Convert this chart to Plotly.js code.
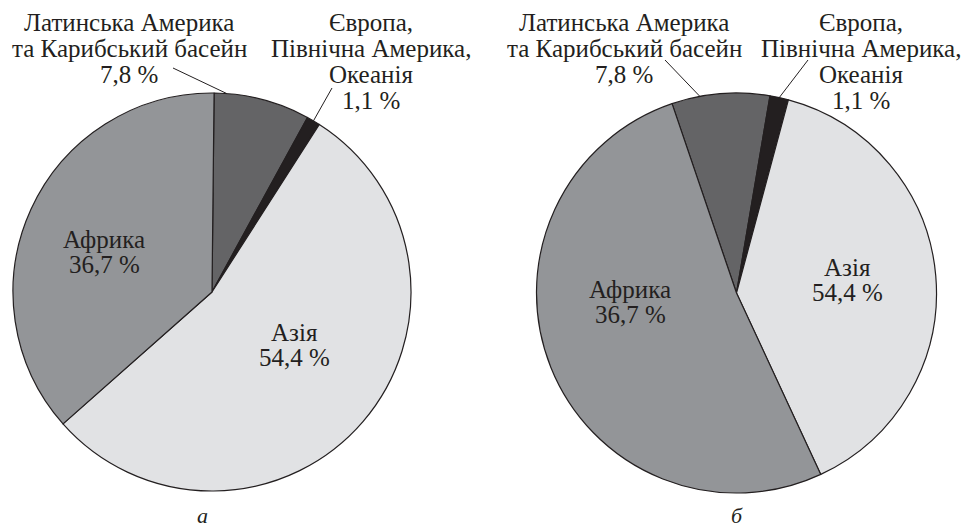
<!DOCTYPE html>
<html>
<head>
<meta charset="utf-8">
<script src="https://cdn.plot.ly/plotly-3.0.1.min.js"></script>
<style>html,body{margin:0;padding:0;background:#fff;}#chart{width:966px;height:530px;}</style>
</head>
<body>
<div id="chart"></div>
<script>
// ---- data ----
var regions = ['Латинська Америка та Карибський басейн', 'Європа, Північна Америка, Океанія', 'Азія', 'Африка'];
var labelLines = [
  ['Латинська Америка', 'та Карибський басейн'],
  ['Європа,', 'Північна Америка,', 'Океанія'],
  ['Азія'],
  ['Африка']
];
var shareLabels = ['7,8 %', '1,1 %', '54,4 %', '36,7 %'];
// slice sizes as drawn in each panel
var valuesA = [7.8, 1.1, 54.4, 36.7];
var valuesB = [7.9, 1.5, 38.9, 51.7];
var panelNames = ['а', 'б'];
var sliceColors = ['#646466', '#231f20', '#e1e2e4', '#939598'];

// ---- layout geometry ----
var W = 966, H = 530;
var pies = [
  {values: valuesA, cx: 212, cy: 292, r: 199, rotation: 0.6},
  {values: valuesB, cx: 736.5, cy: 293, r: 200, rotation: -18.8}
];
// label blocks: centre x and first-line y (px), per panel and slice
var labelPos = [
  [{x: 129, y: 23}, {x: 371, y: 23}, {x: 294, y: 332}, {x: 104, y: 239}],
  [{x: 624, y: 23}, {x: 861, y: 23}, {x: 847, y: 267}, {x: 630, y: 289}]
];
var lineGap = 25.7;
// leader lines: slice index, position inside slice (fraction of its span), tail point (px)
var leaders = [
  [{s: 0, f: 0.13, tx: 173, ty: 68}, {s: 1, f: 0.5, tx: 332, ty: 88}],
  [{s: 0, f: 0.29, tx: 665, ty: 60}, {s: 1, f: 0.5, tx: 808, ty: 60}]
];
var panelLabelPos = [{x: 202, y: 515}, {x: 737, y: 515}];

var ink = '#231f20';
var fam = 'Liberation Serif';
var font = {family: fam, size: 25, color: ink};

function px(x) { return x / W; }
function py(y) { return 1 - y / H; }

var traces = pies.map(function (p) {
  return {
    type: 'pie',
    values: p.values,
    labels: regions,
    sort: false,
    direction: 'clockwise',
    rotation: p.rotation,
    textinfo: 'none',
    hoverinfo: 'label+value',
    showlegend: false,
    marker: {colors: sliceColors, line: {color: ink, width: 1.2}},
    domain: {x: [px(p.cx - p.r), px(p.cx + p.r)], y: [py(p.cy + p.r), py(p.cy - p.r)]}
  };
});

var annotations = [];
var shapes = [];
pies.forEach(function (p, k) {
  labelPos[k].forEach(function (pos, i) {
    var lines = labelLines[i].concat([shareLabels[i]]);
    lines.forEach(function (t, j) {
      annotations.push({
        xref: 'paper', yref: 'paper', x: px(pos.x), y: py(pos.y + j * lineGap),
        xanchor: 'center', yanchor: 'middle', showarrow: false,
        text: t, font: font
      });
    });
  });
  var total = p.values.reduce(function (a, b) { return a + b; }, 0);
  var starts = [], acc = p.rotation;
  p.values.forEach(function (v) { starts.push(acc); acc += v / total * 360; });
  leaders[k].forEach(function (l) {
    var span = p.values[l.s] / total * 360;
    var ang = (starts[l.s] + l.f * span) * Math.PI / 180;
    var tipX = p.cx + p.r * Math.sin(ang);
    var tipY = p.cy - p.r * Math.cos(ang);
    shapes.push({
      type: 'line', xref: 'paper', yref: 'paper',
      x0: px(l.tx), y0: py(l.ty), x1: px(tipX), y1: py(tipY),
      line: {color: ink, width: 1}
    });
  });
  annotations.push({
    xref: 'paper', yref: 'paper', x: px(panelLabelPos[k].x), y: py(panelLabelPos[k].y),
    xanchor: 'center', yanchor: 'middle', showarrow: false,
    text: '<i>' + panelNames[k] + '</i>',
    font: {family: fam, size: 22, color: ink}
  });
});

var layout = {
  width: W, height: H,
  margin: {l: 0, r: 0, t: 0, b: 0},
  paper_bgcolor: '#ffffff',
  annotations: annotations,
  shapes: shapes
};
Plotly.newPlot('chart', traces, layout, {displayModeBar: false, staticPlot: true});
</script>
</body>
</html>
